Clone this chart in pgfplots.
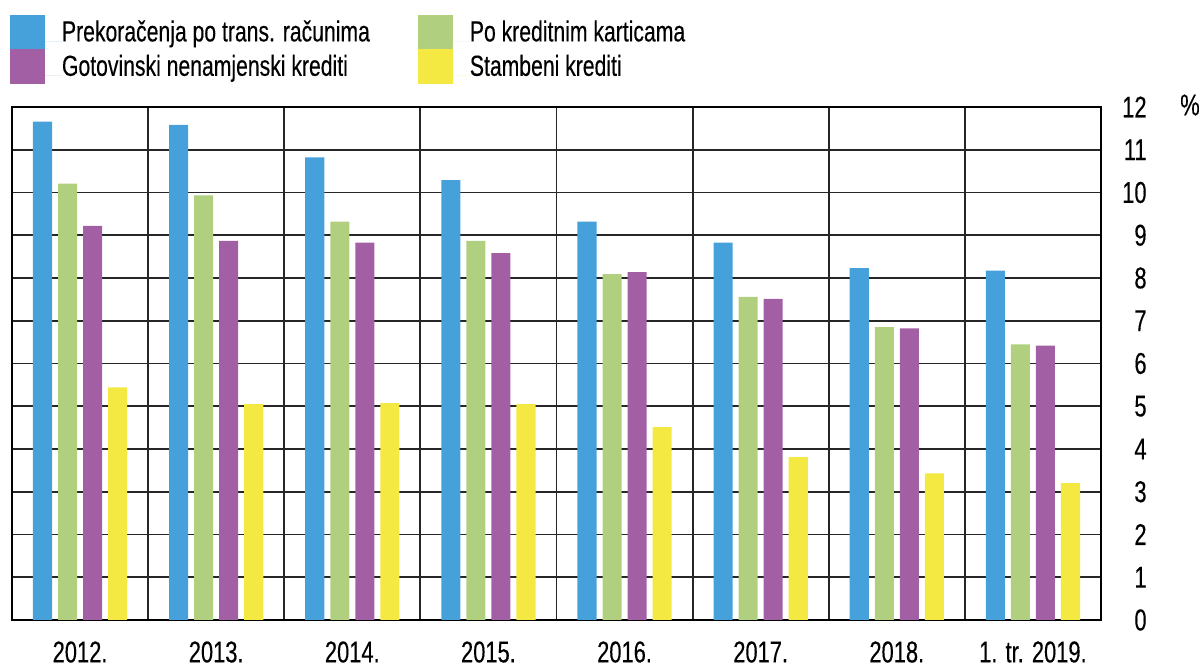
\documentclass[border=0pt]{standalone}
\usepackage{pgfplots}
\pgfplotsset{compat=1.18}
\usepackage{fontspec}
\setmainfont{Liberation Sans}[FakeStretch=0.73, FakeBold=0.3]
\definecolor{cblue}{RGB}{70,160,218}
\definecolor{cgreen}{RGB}{176,208,128}
\definecolor{cpurple}{RGB}{163,95,163}
\definecolor{cyellow}{RGB}{244,232,66}
\begin{document}
\begin{tikzpicture}
\useasboundingbox (-6pt,-24pt) rectangle (594.5pt,310pt);
\begin{axis}[
  at={(0,0)}, anchor=south west,
  scale only axis, width=544.5pt, height=256.5pt,
  clip mode=individual,
  xmin=-0.5, xmax=7.5, ymin=0, ymax=12,
  xtick={0,...,7},
  xticklabels={2012.,2013.,2014.,2015.,2016.,2017.,2018.,1. tr. 2019.},
  minor xtick={0.5,1.5,...,6.5},
  xminorgrids=true, ymajorgrids=true,
  ytick={0,...,12},
  major tick length=0pt, minor tick length=0pt,
  yticklabel pos=right,
  /pgf/number format/assume math mode=true,
  ticklabel style={font=\fontsize{15}{17}\selectfont, text=black},
  xticklabel style={inner sep=0pt, anchor=north, yshift=-10.5pt},
  yticklabel style={inner sep=0pt, anchor=east, xshift=23pt},
  major grid style={black!85, line width=0.9pt},
  minor grid style={black!85, line width=0.9pt},
  axis line style={black, line width=1.2pt},
  legend columns=2,
  legend cell align=left,
  legend image code/.code={\fill[#1] (0pt,-4pt) rectangle (17.5pt,13.2pt); \path (0pt,0pt) -- (26pt,0pt);},
  legend style={at={(0,1)}, anchor=north west, xshift=-1pt, yshift=46pt,
    draw=none, fill=none, inner sep=0pt, outer sep=0pt, row sep=0pt, column sep=0pt,
    nodes={inner sep=0pt, anchor=base west, font=\fontsize{14.5}{16}\selectfont},
    /tikz/every even column/.append style={column sep=24pt}},
]
\addplot[ybar, bar width=0.14, bar shift=-0.276, fill=cblue, draw=none] coordinates
  {(0,11.66) (1,11.58) (2,10.82) (3,10.29) (4,9.32) (5,8.83) (6,8.23) (7,8.17)};
\addlegendentry{Prekoračenja po trans. računima}
\addplot[ybar, bar width=0.14, bar shift=-0.092, fill=cgreen, draw=none] coordinates
  {(0,10.21) (1,9.93) (2,9.32) (3,8.87) (4,8.09) (5,7.56) (6,6.85) (7,6.45)};
\addlegendentry{Po kreditnim karticama}
\addplot[ybar, bar width=0.14, bar shift=0.092, fill=cpurple, draw=none] coordinates
  {(0,9.22) (1,8.87) (2,8.83) (3,8.58) (4,8.14) (5,7.51) (6,6.82) (7,6.42)};
\addlegendentry{Gotovinski nenamjenski krediti}
\addplot[ybar, bar width=0.14, bar shift=0.276, fill=cyellow, draw=none] coordinates
  {(0,5.44) (1,5.05) (2,5.07) (3,5.05) (4,4.51) (5,3.81) (6,3.43) (7,3.20)};
\addlegendentry{Stambeni krediti}
\node[anchor=center, inner sep=0pt, font=\fontsize{15}{17}\selectfont] at (rel axis cs:1,1) [xshift=44.5pt, yshift=1pt] {\%};
\end{axis}
\end{tikzpicture}
\end{document}
